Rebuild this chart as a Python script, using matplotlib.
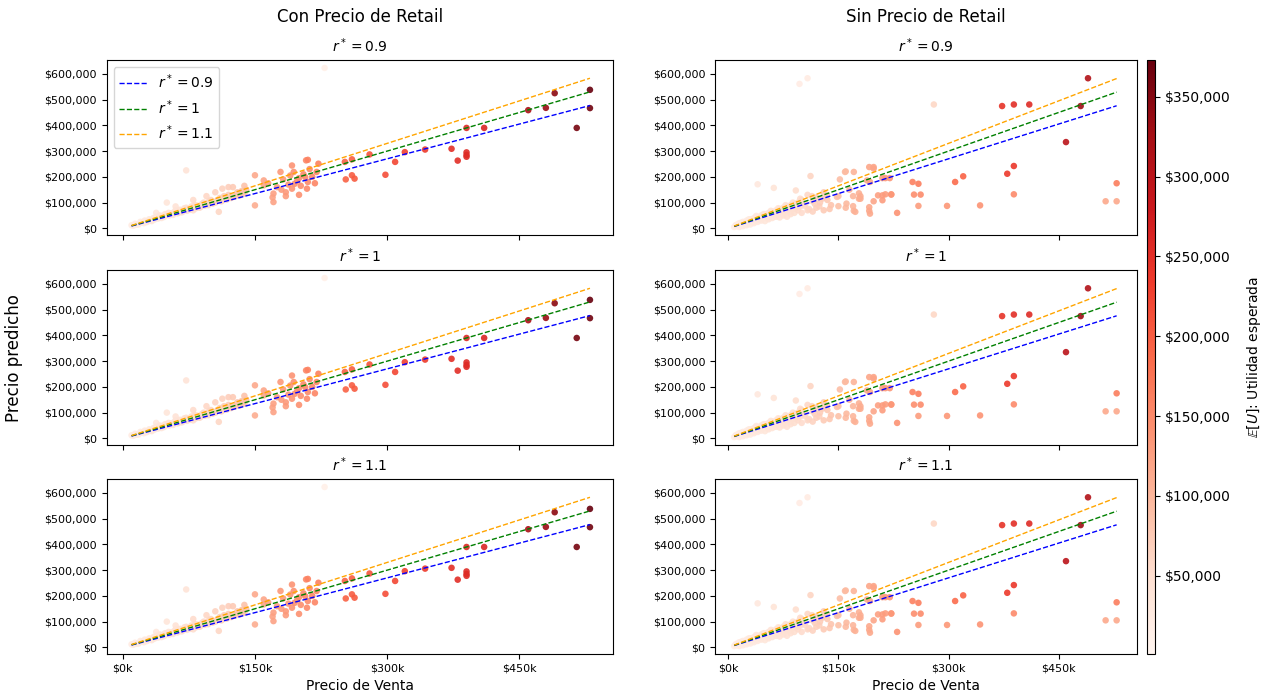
import matplotlib
matplotlib.use("Agg")
import matplotlib.pyplot as plt
import numpy as np
from matplotlib.ticker import FuncFormatter, FixedLocator

# --- datos: precio de venta (k$), precio predicho (k$), utilidad esperada (k$)
con_x = [10, 14, 18, 20, 22, 25, 28, 30, 32, 35, 38, 40, 42, 45, 48, 50, 52, 55, 58, 60,
         62, 65, 68, 70, 72, 75, 78, 80, 82, 85, 88, 90, 92, 95, 98, 100, 105, 110, 115, 120,
         125, 130, 135, 140, 72, 38, 50, 109, 113, 120, 229,
         12, 16, 24, 27, 33, 36, 44, 47, 53, 57, 63, 67, 73, 77, 83, 87, 93, 97, 102, 107,
         112, 118, 123, 128, 133, 138, 60, 80, 95, 105, 125, 138,
         150, 150, 160, 160, 165, 171, 171, 175, 179, 180, 182, 185, 188, 190, 192, 194, 192, 195,
         198, 200, 202, 205, 208, 209, 210, 212, 215, 218, 222, 210, 170, 185, 200, 207, 220,
         252, 260, 253, 260, 263, 280, 298, 309, 320, 343, 373, 380, 390, 390, 390, 390, 410,
         460, 480, 490, 515, 530, 530]
con_y = [12, 18, 15, 25, 22, 30, 26, 35, 30, 40, 45, 38, 50, 48, 55, 52, 60, 58, 62, 70,
         58, 72, 65, 78, 80, 75, 85, 70, 90, 88, 82, 95, 100, 92, 105, 110, 100, 118, 125, 130,
         122, 140, 145, 150, 225, 60, 100, 64, 154, 160, 623,
         10, 14, 20, 24, 28, 34, 40, 44, 50, 52, 60, 62, 68, 72, 78, 80, 88, 90, 96, 108,
         105, 112, 118, 125, 128, 135, 85, 110, 125, 140, 160, 165,
         206, 89, 186, 167, 175, 135, 102, 160, 219, 150, 190, 140, 170, 205, 244, 219, 154, 173,
         185, 195, 165, 210, 264, 154, 180, 230, 200, 175, 251, 266, 120, 125, 130, 199, 219,
         258, 268, 190, 206, 193, 287, 208, 258, 296, 306, 309, 263, 295, 285, 278, 390, 390,
         459, 468, 525, 390, 538, 467]
con_u = [22, 24, 26, 27, 28, 29, 30, 31, 32, 33, 34, 35, 36, 37, 38, 39, 40, 41, 42, 43,
         44, 45, 46, 47, 48, 49, 50, 51, 52, 53, 55, 56, 57, 58, 60, 62, 64, 67, 70, 73,
         76, 80, 84, 88, 40, 30, 35, 60, 65, 70, 14,
         23, 25, 28, 30, 32, 33, 36, 37, 39, 41, 44, 45, 48, 49, 52, 54, 57, 59, 62, 65,
         68, 72, 75, 78, 82, 86, 42, 52, 58, 64, 76, 86,
         115, 110, 120, 120, 122, 125, 122, 128, 132, 130, 132, 133, 136, 138, 140, 142, 138, 142,
         144, 146, 145, 148, 152, 150, 150, 152, 154, 156, 160, 158, 124, 130, 142, 150, 156,
         195, 200, 195, 200, 202, 210, 215, 222, 228, 235, 250, 252, 255, 255, 255, 258, 262,
         320, 335, 345, 360, 373, 365]

sin_x = [8, 10, 12, 15, 15, 18, 20, 20, 22, 25, 25, 28, 30, 30, 32, 35, 35, 38, 40, 40,
         40, 42, 45, 45, 48, 50, 50, 52, 55, 55, 58, 60, 60, 62, 62, 65, 65, 68, 70, 70,
         72, 75, 75, 78, 80, 80, 82, 85, 85, 88, 90, 90, 92, 95, 95, 98, 100, 100, 105, 108,
         110, 112, 115, 115, 120, 120, 125, 130, 130, 135, 140, 97, 108,
         12, 18, 24, 28, 34, 38, 44, 48, 54, 58, 64, 68, 74, 78, 84, 88, 94, 98, 104, 108,
         114, 118, 124, 128, 134, 138,
         148, 150, 150, 152, 159, 160, 160, 161, 165, 170, 170, 171, 171, 173, 178, 178, 180, 180,
         189, 192, 193, 192, 192, 193, 198, 198, 198, 204, 210, 210, 210, 214, 214, 220, 222, 222,
         230, 251, 259, 253, 262, 259, 280, 298, 309, 320, 343, 380, 389, 389, 373, 389, 410,
         460, 480, 490, 514, 529, 529]
sin_y = [5, 12, 8, 20, 5, 14, 25, 8, 18, 30, 12, 22, 35, 15, 28, 40, 20, 30, 45, 171,
         25, 35, 50, 30, 40, 55, 28, 45, 60, 35, 50, 65, 40, 157, 55, 70, 45, 60, 75, 42,
         55, 80, 50, 65, 85, 45, 70, 90, 55, 75, 95, 60, 147, 100, 70, 85, 110, 60, 95, 130,
         75, 203, 105, 65, 120, 80, 100, 140, 70, 110, 90, 561, 583,
         15, 22, 15, 35, 25, 48, 38, 55, 42, 68, 52, 78, 62, 90, 65, 100, 80, 115, 88, 70,
         125, 95, 85, 115, 130, 75,
         122, 125, 86, 190, 219, 221, 80, 96, 150, 125, 86, 68, 219, 64, 136, 115, 125, 115,
         186, 238, 180, 82, 68, 57, 238, 232, 105, 128, 195, 128, 109, 195, 132, 195, 131, 132,
         60, 180, 173, 131, 131, 87, 481, 87, 180, 202, 89, 212, 242, 132, 475, 481, 481,
         335, 475, 583, 105, 105, 175]
sin_u = [18, 19, 20, 21, 21, 22, 23, 22, 23, 24, 24, 25, 26, 26, 27, 28, 28, 29, 30, 30,
         30, 31, 32, 32, 33, 34, 34, 35, 36, 36, 37, 38, 38, 38, 39, 40, 40, 41, 42, 42,
         43, 44, 44, 45, 46, 46, 47, 48, 48, 49, 50, 50, 51, 52, 52, 53, 55, 54, 57, 59,
         60, 62, 64, 64, 68, 68, 71, 74, 74, 78, 81, 20, 22,
         20, 22, 24, 25, 27, 29, 31, 32, 34, 36, 38, 40, 42, 44, 46, 48, 50, 52, 56, 58,
         62, 65, 68, 71, 75, 78,
         85, 88, 88, 90, 95, 95, 95, 96, 100, 100, 100, 102, 102, 105, 108, 108, 110, 110,
         115, 118, 118, 115, 115, 115, 120, 120, 120, 125, 130, 128, 128, 132, 130, 135, 135, 135,
         140, 160, 165, 145, 148, 130, 60, 135, 185, 195, 140, 235, 240, 150, 245, 250, 255,
         300, 330, 310, 115, 115, 165]

r_values = [0.9, 1, 1.1]
r_labels = ["0.9", "1", "1.1"]
line_colors = ["blue", "green", "orange"]
col_titles = ["Con Precio de Retail", "Sin Precio de Retail"]

plt.rcParams['font.family'] = ['DejaVu Sans']

fig = plt.figure(figsize=(12.77, 6.96), dpi=100)

col_x = [(0.0836, 0.3964), (0.5599, 0.3301)]
row_y = [(0.6624, 0.2514), (0.3606, 0.2514), (0.0603, 0.2514)]

vmin = 1000
vmax = max(max(con_u), max(sin_u)) * 1000
cmap = plt.get_cmap('Reds')

money = FuncFormatter(lambda v, p: f"${v:,.0f}")
kmoney = FuncFormatter(lambda v, p: f"${v/1000:.0f}k")

datasets = [(con_x, con_y, con_u), (sin_x, sin_y, sin_u)]
first = None
sc = None
for c, (xs, ys, us) in enumerate(datasets):
    x = np.array(xs) * 1000
    y = np.array(ys) * 1000
    u = np.array(us) * 1000
    order = np.argsort(u)
    for r in range(3):
        left, w = col_x[c]
        b, h = row_y[r]
        if first is None:
            ax = fig.add_axes([left, b, w, h])
            first = ax
        else:
            ax = fig.add_axes([left, b, w, h], sharex=first, sharey=first)
        sc = ax.scatter(x[order], y[order], c=u[order], cmap=cmap, vmin=vmin, vmax=vmax,
                        s=22, linewidths=0, alpha=0.9, zorder=2)
        xl = np.array([x.min(), x.max()])
        for rv, rl, lc in zip(r_values, r_labels, line_colors):
            ax.plot(xl, rv * xl, '--', color=lc, lw=1, label=f"$r^*={rl}$", zorder=3)
        ax.set_title(f"$r^*={r_labels[r]}$", fontsize=10)
        ax.yaxis.set_major_formatter(money)
        ax.xaxis.set_major_locator(FixedLocator([0, 150000, 300000, 450000]))
        ax.xaxis.set_major_formatter(kmoney)
        ax.tick_params(labelsize=8)
        if r < 2:
            ax.tick_params(labelbottom=False)
        else:
            ax.set_xlabel("Precio de Venta", fontsize=10)
        if r == 0 and c == 0:
            ax.legend(loc='upper left', fontsize=10)

first.set_yticks(np.arange(0, 600001, 100000))

fig.text(0.2818, 0.9756, col_titles[0], ha='center', va='center', fontsize=12)
fig.text(0.725, 0.9756, col_titles[1], ha='center', va='center', fontsize=12)
fig.text(0.011, 0.486, "Precio predicho", rotation=90, ha='center', va='center', fontsize=12)

cax = fig.add_axes([0.8985, 0.0603, 0.0060, 0.8535])
cb = fig.colorbar(sc, cax=cax)
cb.formatter = money
cb.set_ticks([50000, 100000, 150000, 200000, 250000, 300000, 350000])
cb.ax.tick_params(labelsize=10)
cb.set_label(r"$\mathbb{E}[U]$: Utilidad esperada", fontsize=10, labelpad=10)
cb.solids.set_alpha(1)

plt.savefig("out.png", dpi=100)
